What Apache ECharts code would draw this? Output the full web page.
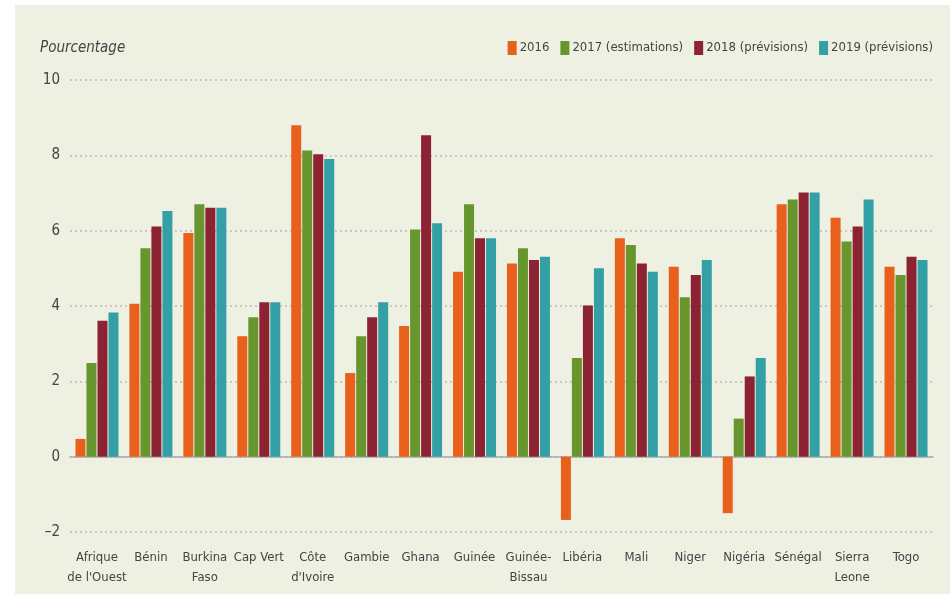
<!DOCTYPE html>
<html>
<head>
<meta charset="utf-8">
<script src="https://cdn.jsdelivr.net/npm/echarts@6/dist/echarts.min.js"></script>
<style>
html,body{margin:0;padding:0;background:#fff;width:950px;height:594px;overflow:hidden;}
#chart{position:absolute;left:15px;top:5px;width:935px;height:589px;background:#EEF0E2;}
</style>
</head>
<body>
<div id="chart"></div>
<script>
const categories = ["Afrique\nde l'Ouest", "Bénin", "Burkina\nFaso", "Cap Vert", "Côte\nd'Ivoire", "Gambie", "Ghana", "Guinée", "Guinée-\nBissau", "Libéria", "Mali", "Niger", "Nigéria", "Sénégal", "Sierra\nLeone", "Togo"];
const seriesNames = ["2016", "2017 (estimations)", "2018 (prévisions)", "2019 (prévisions)"];
const v2016 = [0.47, 4.06, 5.94, 3.2, 8.8, 2.22, 3.47, 4.91, 5.13, -1.68, 5.8, 5.04, -1.5, 6.7, 6.34, 5.04];
const v2017 = [2.49, 5.53, 6.7, 3.7, 8.13, 3.2, 6.03, 6.7, 5.53, 2.62, 5.62, 4.23, 1.01, 6.83, 5.71, 4.82];
const v2018 = [3.61, 6.11, 6.61, 4.1, 8.03, 3.7, 8.53, 5.8, 5.22, 4.01, 5.13, 4.82, 2.13, 7.01, 6.11, 5.31];
const v2019 = [3.83, 6.52, 6.61, 4.1, 7.9, 4.1, 6.2, 5.8, 5.31, 5.0, 4.91, 5.22, 2.62, 7.01, 6.83, 5.22];
const yTicks = { min: -2, max: 10, interval: 2 };
const colors = ["#E8601C", "#68962E", "#8C2332", "#33A0A6"];
const allValues = [v2016, v2017, v2018, v2019];

const font = "'Liberation Sans Narrow', 'DejaVu Sans Condensed', 'DejaVu Sans', sans-serif";
const fw = 'normal condensed';
const chart = echarts.init(document.getElementById('chart'), null, { renderer: 'canvas' });
chart.setOption({
  animation: false,
  color: colors,
  title: {
    text: 'Pourcentage',
    left: 20, top: 31,
    textStyle: { fontFamily: font, fontSize: 15, fontStyle: 'italic', fontWeight: fw, color: '#444' }
  },
  legend: {
    right: 12, top: 31,
    itemWidth: 9, itemHeight: 14, itemGap: 11,
    icon: 'rect',
    data: seriesNames,
    textStyle: { fontFamily: font, fontSize: 13, fontWeight: fw, color: '#444', padding: [0, 0, 0, -2] }
  },
  grid: { left: 55, right: 17, top: 75, bottom: 62, containLabel: false },
  xAxis: [
    {
      type: 'category', data: categories,
      axisLine: { show: true, onZero: true, lineStyle: { color: '#aaa', width: 1.5 } },
      axisTick: { show: false }, axisLabel: { show: false }
    },
    {
      type: 'category', data: categories, position: 'bottom',
      axisLine: { show: false, onZero: false }, axisTick: { show: false },
      axisLabel: { fontFamily: font, fontSize: 13, fontWeight: fw, color: '#444', margin: 16, lineHeight: 20, interval: 0 }
    }
  ],
  yAxis: {
    type: 'value', min: yTicks.min, max: yTicks.max, interval: yTicks.interval,
    axisLine: { show: false }, axisTick: { show: false },
    axisLabel: {
      fontFamily: font, fontSize: 15, fontWeight: fw, color: '#444', margin: 10,
      formatter: v => String(v).replace('-', '–')
    },
    splitLine: { lineStyle: { color: '#bbb', type: [2, 3], width: 1.5 } }
  },
  series: seriesNames.map((n, i) => ({
    name: n, type: 'bar', xAxisIndex: 0,
    data: allValues[i],
    barWidth: 10, barGap: '10%',
    itemStyle: { color: colors[i] }
  }))
});
</script>
</body>
</html>
